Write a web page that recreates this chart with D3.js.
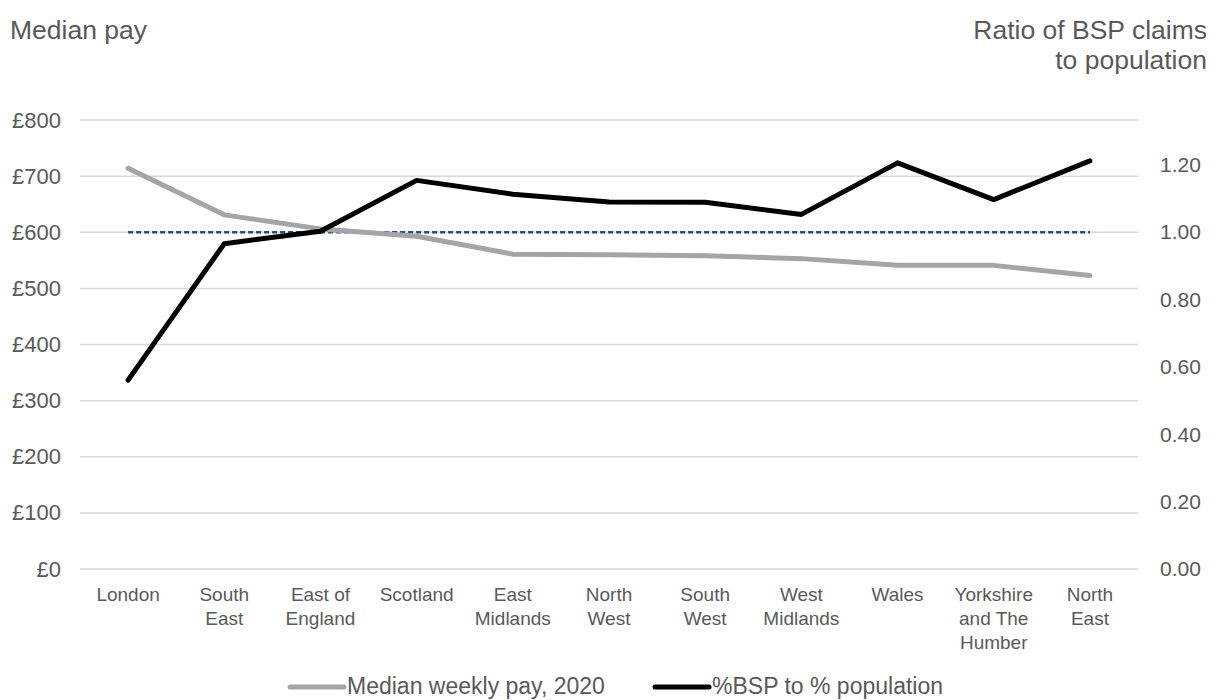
<!DOCTYPE html>
<html>
<head>
<meta charset="utf-8">
<script src="https://cdn.jsdelivr.net/npm/d3@7"></script>
<style>
  body { margin: 0; background: #fff; }
  svg { display: block; }
  text { font-family: "Liberation Sans", Arial, sans-serif; fill: #595959; }
</style>
</head>
<body>
<div id="chart"></div>
<script>
// regions, in chart order
const categories = ['London', 'South East', 'East of England', 'Scotland', 'East Midlands',
  'North West', 'South West', 'West Midlands', 'Wales', 'Yorkshire and The Humber', 'North East'];
const categoryLines = [['London'], ['South', 'East'], ['East of', 'England'], ['Scotland'],
  ['East', 'Midlands'], ['North', 'West'], ['South', 'West'], ['West', 'Midlands'], ['Wales'],
  ['Yorkshire', 'and The', 'Humber'], ['North', 'East']];

const medianPay = [714, 631, 606, 593, 561, 560, 558, 553, 541, 541, 523];
const bspRatio = [0.561, 0.966, 1.003, 1.154, 1.113, 1.090, 1.089, 1.053, 1.206, 1.097, 1.212];
const parityLine = 1.0;

const payTicks = [0, 100, 200, 300, 400, 500, 600, 700, 800];
const ratioTicks = [0, 0.2, 0.4, 0.6, 0.8, 1.0, 1.2];

const width = 1222, height = 700;
const margin = {top: 120, right: 84, bottom: 131, left: 80};

const svg = d3.select('#chart').append('svg')
  .attr('width', width)
  .attr('height', height);

const x = d3.scalePoint()
  .domain(categories)
  .range([margin.left, width - margin.right])
  .padding(0.5);

const yPay = d3.scaleLinear()
  .domain([0, 800])
  .range([height - margin.bottom, margin.top]);

// secondary axis shares the gridlines: 1.00 sits on £600
const yRatio = d3.scaleLinear()
  .domain([0, 800 / 600])
  .range([height - margin.bottom, margin.top]);

// gridlines
svg.append('g')
  .selectAll('line')
  .data(payTicks)
  .join('line')
  .attr('x1', margin.left)
  .attr('x2', width - margin.right)
  .attr('y1', d => yPay(d))
  .attr('y2', d => yPay(d))
  .attr('stroke', '#d9d9d9')
  .attr('stroke-width', 1.5);

// left axis
const leftAxis = svg.append('g')
  .attr('transform', `translate(${margin.left - 19},0)`)
  .call(d3.axisLeft(yPay).tickValues(payTicks).tickSize(0).tickPadding(0).tickFormat(d => '£' + d));
leftAxis.select('.domain').remove();
leftAxis.selectAll('text')
  .attr('font-size', 22)
  .attr('font-family', '"Liberation Sans", Arial, sans-serif')
  .attr('fill', '#595959');

// right axis
const rightAxis = svg.append('g')
  .attr('transform', `translate(${width - margin.right + 22},0)`)
  .call(d3.axisRight(yRatio).tickValues(ratioTicks).tickSize(0).tickPadding(0).tickFormat(d3.format('.2f')));
rightAxis.select('.domain').remove();
rightAxis.selectAll('text')
  .attr('font-size', 21)
  .attr('font-family', '"Liberation Sans", Arial, sans-serif')
  .attr('fill', '#595959');

// category labels
const labels = svg.append('g')
  .selectAll('text')
  .data(categories)
  .join('text')
  .attr('text-anchor', 'middle')
  .attr('font-size', 19);
labels.each(function (d, i) {
  d3.select(this).selectAll('tspan')
    .data(categoryLines[i])
    .join('tspan')
    .attr('x', x(d))
    .attr('y', (t, j) => height - margin.bottom + 32 + j * 24)
    .text(t => t);
});

// parity reference line
svg.append('line')
  .attr('x1', x(categories[0]))
  .attr('x2', x(categories[categories.length - 1]))
  .attr('y1', yRatio(parityLine))
  .attr('y2', yRatio(parityLine))
  .attr('stroke', '#1f4e79')
  .attr('stroke-width', 2.5)
  .attr('stroke-dasharray', '5,3');

const payLine = d3.line()
  .x((d, i) => x(categories[i]))
  .y(d => yPay(d));

const ratioLine = d3.line()
  .x((d, i) => x(categories[i]))
  .y(d => yRatio(d));

svg.append('path')
  .datum(medianPay)
  .attr('fill', 'none')
  .attr('stroke', '#a5a5a7')
  .attr('stroke-width', 5)
  .attr('stroke-linejoin', 'round')
  .attr('stroke-linecap', 'round')
  .attr('d', payLine);

svg.append('path')
  .datum(bspRatio)
  .attr('fill', 'none')
  .attr('stroke', '#000')
  .attr('stroke-width', 5)
  .attr('stroke-linejoin', 'round')
  .attr('stroke-linecap', 'round')
  .attr('d', ratioLine);

// axis titles
svg.append('text')
  .attr('x', 10)
  .attr('y', 39)
  .attr('font-size', 26.5)
  .text('Median pay');

svg.append('text')
  .attr('text-anchor', 'end')
  .attr('font-size', 26.5)
  .selectAll('tspan')
  .data(['Ratio of BSP claims', 'to population'])
  .join('tspan')
  .attr('x', 1207)
  .attr('y', (d, i) => 39 + i * 30)
  .text(d => d);

// legend
const legendItems = [
  {label: 'Median weekly pay, 2020', color: '#a5a5a7', x: 290},
  {label: '%BSP to % population', color: '#000', x: 655}
];
const legend = svg.append('g')
  .selectAll('g')
  .data(legendItems)
  .join('g')
  .attr('transform', d => `translate(${d.x},687)`);
legend.append('line')
  .attr('x1', 0)
  .attr('x2', 54)
  .attr('stroke', d => d.color)
  .attr('stroke-width', 5)
  .attr('stroke-linecap', 'round');
legend.append('text')
  .attr('x', 57)
  .attr('y', 7)
  .attr('font-size', 23)
  .text(d => d.label);
</script>
</body>
</html>
